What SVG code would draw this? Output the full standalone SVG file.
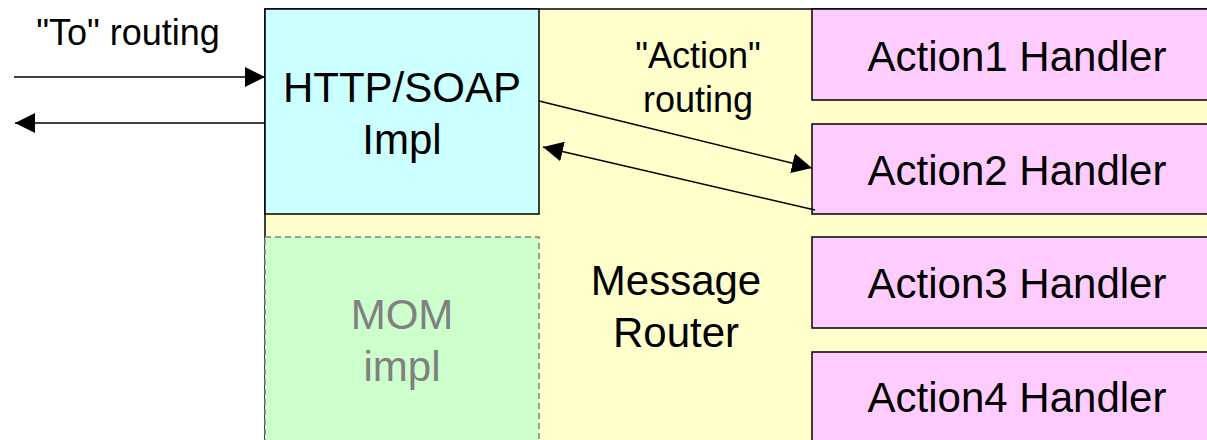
<svg xmlns="http://www.w3.org/2000/svg" width="1207" height="440" viewBox="0 0 1207 440">
  <style>
    .box { stroke: #000; stroke-width: 1.5; }
    .router { fill: #FFFFCC; }
    .http { fill: #CCFFFF; }
    .handler { fill: #FFCCFF; }
    .mom { fill: #CCFFCC; stroke: #808080; stroke-width: 1.5; stroke-dasharray: 6 4; }
    text { font-family: "Liberation Sans", Arial, sans-serif; fill: #000; text-anchor: middle; }
    .big { font-size: 42px; }
    .small { font-size: 36px; }
    .grey { fill: #808080; }
    .conn { stroke: #000; stroke-width: 1.5; fill: none; marker-end: url(#arrow); }
  </style>
  <defs>
    <marker id="arrow" viewBox="0 0 20 20" refX="20" refY="10" markerWidth="20" markerHeight="20" markerUnits="userSpaceOnUse" orient="auto">
      <path d="M0,0 L20,10 L0,20 Z" fill="#000"/>
    </marker>
  </defs>

  <!-- Message router background -->
  <g id="message-router">
    <rect class="box router" x="265" y="9" width="980" height="460"/>
    <text class="big" x="676" y="295">Message</text>
    <text class="big" x="676" y="347">Router</text>
  </g>

  <g id="http-soap-impl">
    <rect class="box http" x="265" y="9" width="274" height="205"/>
    <text class="big" x="402" y="102">HTTP/SOAP</text>
    <text class="big" x="402" y="154">Impl</text>
  </g>

  <g id="mom-impl">
    <rect class="mom" x="265" y="237" width="274" height="230"/>
    <text class="big grey" x="402" y="329">MOM</text>
    <text class="big grey" x="402" y="381">impl</text>
  </g>

  <g id="action1-handler">
    <rect class="box handler" x="812" y="9" width="420" height="91"/>
    <text class="big" x="1017" y="71">Action1 Handler</text>
  </g>
  <g id="action2-handler">
    <rect class="box handler" x="812" y="124" width="420" height="90"/>
    <text class="big" x="1017" y="185">Action2 Handler</text>
  </g>
  <g id="action3-handler">
    <rect class="box handler" x="812" y="237" width="420" height="91"/>
    <text class="big" x="1017" y="298">Action3 Handler</text>
  </g>
  <g id="action4-handler">
    <rect class="box handler" x="812" y="352" width="420" height="120"/>
    <text class="big" x="1017" y="412">Action4 Handler</text>
  </g>

  <!-- Labels on the routing paths -->
  <g id="labels">
    <text class="small" x="128" y="45">"To" routing</text>
    <text class="small" x="698" y="68">"Action"</text>
    <text class="small" x="698" y="112">routing</text>
  </g>

  <g id="connectors">
    <line class="conn" x1="14" y1="77" x2="265" y2="77"/>
    <line class="conn" x1="265" y1="123" x2="15" y2="123"/>
    <line class="conn" x1="539" y1="101" x2="812" y2="168"/>
    <line class="conn" x1="815" y1="210" x2="543" y2="147"/>
  </g>
</svg>
